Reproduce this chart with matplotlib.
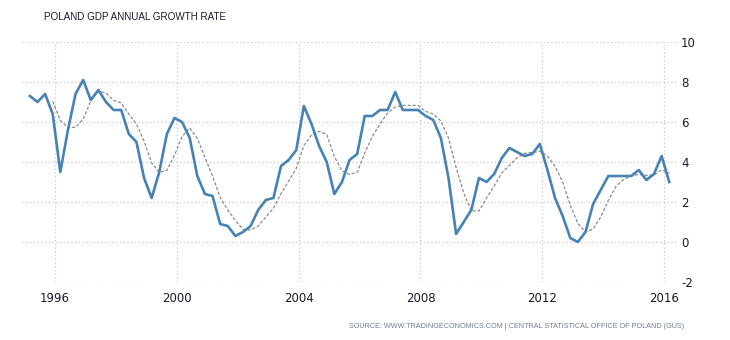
import matplotlib
matplotlib.use("Agg")
import matplotlib.pyplot as plt
import numpy as np

plt.rcParams["axes.unicode_minus"] = False

# Quarterly data starting 1995 Q1
start_year = 1995
gdp_growth = [
    7.3, 7.0, 7.4, 6.4, 3.5, 5.6, 7.4, 8.1, 7.1, 7.6,
    7.0, 6.6, 6.6, 5.4, 5.0, 3.2, 2.2, 3.5, 5.4, 6.2,
    6.0, 5.2, 3.3, 2.4, 2.3, 0.9, 0.8, 0.3, 0.5, 0.8,
    1.6, 2.1, 2.2, 3.8, 4.1, 4.6, 6.8, 5.9, 4.8, 4.0,
    2.4, 3.0, 4.1, 4.4, 6.3, 6.3, 6.6, 6.6, 7.5, 6.6,
    6.6, 6.6, 6.3, 6.1, 5.2, 3.2, 0.4, 1.0, 1.6, 3.2,
    3.0, 3.4, 4.2, 4.7, 4.5, 4.3, 4.4, 4.9, 3.6, 2.2,
    1.3, 0.2, 0.0, 0.5, 1.9, 2.6, 3.3, 3.3, 3.3, 3.3,
    3.6, 3.1, 3.4, 4.3, 3.0,
]
# dotted trend line (starts at 4th quarter)
trend_start_index = 3
trend = [
    7.03, 6.08, 5.73, 5.73, 6.15, 7.05, 7.55, 7.45, 7.08, 6.95,
    6.40, 5.90, 5.05, 3.95, 3.48, 3.58, 4.33, 5.28, 5.70, 5.18,
    4.23, 3.30, 2.23, 1.60, 1.08, 0.63, 0.60, 0.80, 1.25, 1.68,
    2.43, 3.05, 3.68, 4.83, 5.35, 5.53, 5.38, 4.28, 3.55, 3.38,
    3.48, 4.45, 5.28, 5.90, 6.45, 6.75, 6.83, 6.83, 6.83, 6.53,
    6.40, 6.05, 5.20, 3.73, 2.45, 1.55, 1.55, 2.20, 2.80, 3.45,
    3.83, 4.20, 4.43, 4.48, 4.53, 4.30, 3.78, 3.00, 1.83, 0.93,
    0.50, 0.65, 1.25, 2.08, 2.78, 3.13, 3.30, 3.38, 3.33, 3.35,
    3.60, 3.45,
]
year_ticks = [1996, 2000, 2004, 2008, 2012, 2016]
y_ticks = [-2, 0, 2, 4, 6, 8, 10]

title = "POLAND GDP ANNUAL GROWTH RATE"
source = "SOURCE: WWW.TRADINGECONOMICS.COM | CENTRAL STATISTICAL OFFICE OF POLAND (GUS)"

x = start_year + 0.17 + 0.25 * np.arange(len(gdp_growth))
x_trend = x[trend_start_index:trend_start_index + len(trend)]

fig = plt.figure(figsize=(7.3, 3.4), dpi=100)
ax = fig.add_axes([0.030, 0.1706, 0.897, 0.7059])

ax.plot(x_trend, trend, color="#8a8a8a", lw=0.9, ls=(0, (2.5, 1.5)), zorder=2)
ax.plot(x, gdp_growth, color="#4682b4", lw=1.9, zorder=3)

ax.set_xlim(1994.908, 2016.416)
ax.set_ylim(-2, 10)
ax.set_xticks(year_ticks)
ax.set_xticklabels([str(y) for y in year_ticks])
ax.set_yticks(y_ticks)
ax.yaxis.tick_right()
ax.tick_params(axis="both", length=0, labelsize=8.5, colors="#1a1a2e")
ax.tick_params(axis="y", pad=3)
ax.tick_params(axis="x", pad=7)
ax.grid(True, color="#c8c8c8", ls=(0, (1, 2)), lw=0.9)
for s in ax.spines.values():
    s.set_visible(False)

fig.text(44 / 730, 1 - 17 / 340, title, fontsize=7.1, color="#1a1a2e",
         family="Liberation Sans", va="center", ha="left")
fig.text(684 / 730, 1 - 326 / 340, source, fontsize=5.2, color="#6e7f90",
         family="Liberation Sans", va="center", ha="right")

fig.savefig("out.png", dpi=100)
